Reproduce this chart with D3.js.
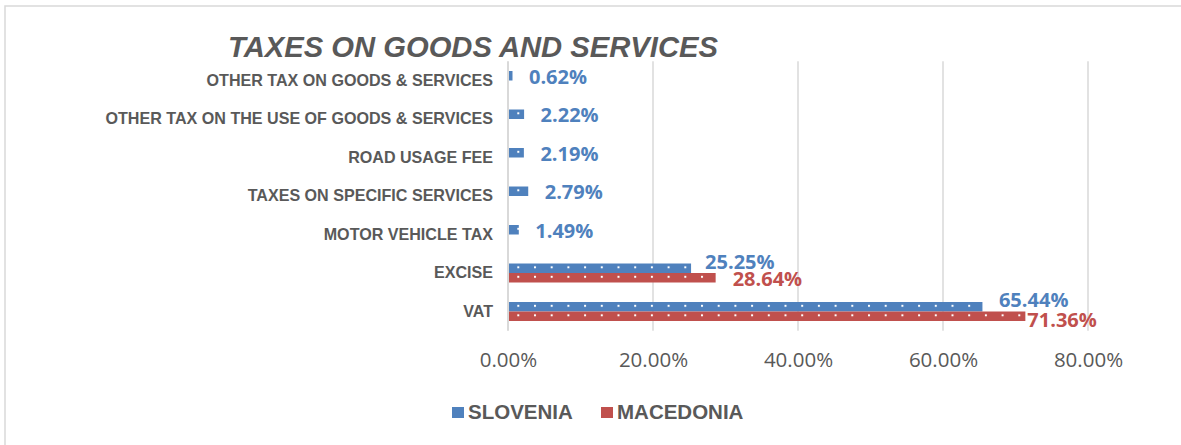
<!DOCTYPE html>
<html>
<head>
<meta charset="utf-8">
<script src="https://cdn.jsdelivr.net/npm/d3@7/dist/d3.min.js"></script>
<style>
  html, body { margin: 0; padding: 0; background: #fff; }
  svg { display: block; }
</style>
</head>
<body>
<svg id="chart" width="1181" height="445"></svg>
<script>
// ---- data ----
const categories = [
  "OTHER TAX ON GOODS & SERVICES",
  "OTHER TAX ON THE USE OF GOODS & SERVICES",
  "ROAD USAGE FEE",
  "TAXES ON SPECIFIC SERVICES",
  "MOTOR VEHICLE TAX",
  "EXCISE",
  "VAT"
];
const seriesNames = ["SLOVENIA", "MACEDONIA"];
const slovenia  = [0.0062, 0.0222, 0.0219, 0.0279, 0.0149, 0.2525, 0.6544];
const macedonia = [null, null, null, null, null, 0.2864, 0.7136];
const tickValues = [0, 0.2, 0.4, 0.6, 0.8];
const titleText = "TAXES ON GOODS AND SERVICES";

// ---- styles ----
const colors = { SLOVENIA: "#4F81BD", MACEDONIA: "#C0504D" };
const grey = "#595959";
const gridColor = "#D9D9D9";

const svg = d3.select("#chart");

// chart border
svg.append("rect")
  .attr("x", 5).attr("y", 6).attr("width", 1185).attr("height", 450)
  .attr("fill", "none").attr("stroke", gridColor).attr("stroke-width", 1.5);

const x = d3.scaleLinear().domain([0, 0.8]).range([508, 1088]);
const y0 = d3.scaleBand().domain(categories).range([61.25, 330.75]).padding(0);
const bw = y0.bandwidth();
const barH = 9.5;
const y1 = d3.scaleBand().domain(seriesNames).range([bw / 2 - barH, bw / 2 + barH]).padding(0);

// gridlines
svg.append("g").selectAll("line")
  .data(tickValues.filter(d => d > 0))
  .join("line")
  .attr("x1", d => x(d)).attr("x2", d => x(d))
  .attr("y1", y0.range()[0]).attr("y2", y0.range()[1])
  .attr("stroke", gridColor).attr("stroke-width", 1.5);

// x-axis tick labels via d3 axis
const xAxis = d3.axisBottom(x).tickValues(tickValues)
  .tickFormat(d => (d * 100).toFixed(2) + "%").tickSize(0).tickPadding(0);
const gx = svg.append("g").attr("transform", "translate(0,352)").call(xAxis);
gx.select(".domain").remove();
gx.selectAll("text")
  .attr("fill", grey)
  .attr("font-family", "'Open Sans', sans-serif")
  .attr("font-size", 20.5)
  .attr("dy", "0.71em");

// build bar data
const rows = [];
categories.forEach((c, i) => {
  [["SLOVENIA", slovenia[i]], ["MACEDONIA", macedonia[i]]].forEach(([s, v]) => {
    if (v != null) rows.push({ cat: c, series: s, value: v, idx: rows.length });
  });
});

// dotted pattern per bar
const defs = svg.append("defs");
rows.forEach(r => {
  const yTop = y0(r.cat) + y1(r.series);
  const p = defs.append("pattern")
    .attr("id", "pat" + r.idx)
    .attr("patternUnits", "userSpaceOnUse")
    .attr("x", 508 + 9.3).attr("y", yTop)
    .attr("width", 16.7).attr("height", y1.bandwidth());
  p.append("rect").attr("width", 16.7).attr("height", y1.bandwidth()).attr("fill", colors[r.series]);
  p.append("rect").attr("x", 0).attr("y", y1.bandwidth() * 0.4 - 1)
    .attr("width", 2).attr("height", 2).attr("fill", "#fff");
});

svg.append("g").selectAll("rect")
  .data(rows)
  .join("rect")
  .attr("x", x(0))
  .attr("y", d => y0(d.cat) + y1(d.series))
  .attr("width", d => x(d.value) - x(0))
  .attr("height", y1.bandwidth())
  .attr("fill", d => `url(#pat${d.idx})`);

// y axis line
svg.append("line")
  .attr("x1", x(0)).attr("x2", x(0))
  .attr("y1", y0.range()[0]).attr("y2", y0.range()[1])
  .attr("stroke", gridColor).attr("stroke-width", 2);

// category labels via d3 axis
const yAxis = d3.axisLeft(y0).tickSize(0).tickPadding(0);
const gy = svg.append("g").attr("transform", "translate(493,0)").call(yAxis);
gy.select(".domain").remove();
gy.selectAll("text")
  .attr("fill", grey)
  .attr("font-family", "'Liberation Sans', Arial, sans-serif")
  .attr("font-weight", "bold")
  .attr("font-size", 16.1)
  .attr("dy", "0.34em");

// data labels (manual nudges as in the original layout)
const labelNudge = {
  "EXCISE|SLOVENIA": [-2.5, -6.5],
  "EXCISE|MACEDONIA": [0.5, 1],
  "VAT|SLOVENIA": [0, -7],
  "VAT|MACEDONIA": [-14.5, 3.5]
};
svg.append("g").selectAll("text")
  .data(rows)
  .join("text")
  .attr("x", d => x(d.value) + 16.5 + ((labelNudge[d.cat + "|" + d.series] || [0, 0])[0]))
  .attr("y", d => y0(d.cat) + y1(d.series) + y1.bandwidth() / 2 + ((labelNudge[d.cat + "|" + d.series] || [0, 1])[1]))
  .attr("dy", "0.36em")
  .attr("fill", d => colors[d.series])
  .attr("font-family", "'Open Sans', sans-serif")
  .attr("font-weight", "bold")
  .attr("font-size", 20)
  .text(d => (d.value * 100).toFixed(2) + "%");

// title
svg.append("text")
  .attr("x", 228).attr("y", 57)
  .attr("fill", grey)
  .attr("font-family", "'Liberation Sans', Arial, sans-serif")
  .attr("font-weight", "bold").attr("font-style", "italic")
  .attr("font-size", 30)
  .attr("textLength", 490).attr("lengthAdjust", "spacingAndGlyphs")
  .text(titleText);

// legend
const legendPos = { SLOVENIA: 452, MACEDONIA: 601 };
const lg = svg.append("g");
seriesNames.forEach(s => {
  lg.append("rect").attr("x", legendPos[s]).attr("y", 407)
    .attr("width", 12).attr("height", 11).attr("fill", colors[s]);
  lg.append("text").attr("x", legendPos[s] + 16).attr("y", 418.5)
    .attr("fill", grey)
    .attr("font-family", "'Liberation Sans', Arial, sans-serif")
    .attr("font-weight", "bold").attr("font-size", 20.5)
    .text(s);
});
</script>
</body>
</html>
